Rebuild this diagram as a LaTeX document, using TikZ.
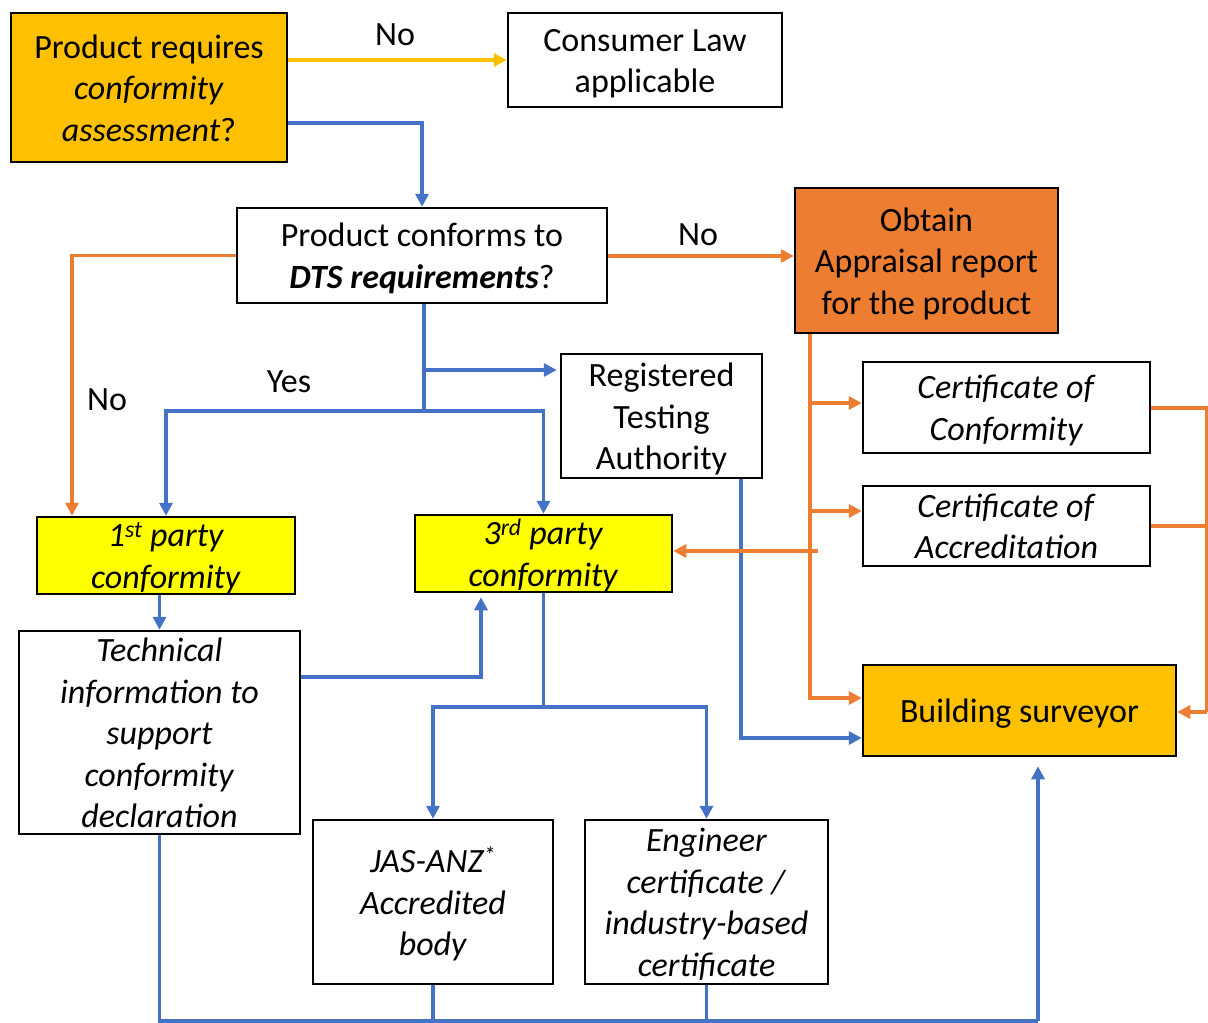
\documentclass[tikz,border=0pt]{standalone}
\usepackage{fontspec}
\setmainfont{Carlito}
\usetikzlibrary{arrows.meta,calc}
\definecolor{cblue}{HTML}{4472C4}
\definecolor{corange}{HTML}{ED7D31}
\definecolor{cgold}{HTML}{FFC000}
\definecolor{cyel}{HTML}{FFFF00}
% #1 = number of lines minus one, #2 = lines
\newcommand\bxt[2]{\raisebox{\dimexpr 20.75pt*#1 - 12pt\relax}[0pt][0pt]{\begin{tabular}[t]{@{}c@{}}#2\end{tabular}}}
\begin{document}
\begin{tikzpicture}[x=1pt,y=-1pt,
  box/.style={draw, line width=2.5pt, inner sep=0pt, font=\fontsize{34}{41.5}\selectfont},
  lbl/.style={inner sep=0pt, font=\fontsize{34}{41.5}\selectfont},
  con/.style={line width=3.5pt},
  arr/.style={con, -{Triangle[length=13pt,width=13pt]}},
  bl/.style={color=cblue},
  orr/.style={color=corange},
  gd/.style={color=cgold}]
\useasboundingbox (0,0) rectangle (1208,1023);
\fill[white] (0,0) rectangle (1208,1023);

% nodes
\node[box, fill=cgold, minimum width=276pt, minimum height=149pt] (q1) at (149,87.5)
  {\bxt{2}{Product requires\\ \textit{conformity}\\ \textit{assessment}?}};
\node[box, minimum width=274pt, minimum height=94pt] (cl) at (645,60)
  {\bxt{1}{Consumer Law\\ applicable}};
\node[box, minimum width=370pt, minimum height=95pt] (q2) at (422,255.5)
  {\bxt{1}{Product conforms to\\ \textbf{\textit{DTS requirements}}?}};
\node[box, fill=corange, minimum width=263pt, minimum height=145pt] (ob) at (926.5,260.5)
  {\bxt{2}{Obtain\\ Appraisal report\\ for the product}};
\node[box, minimum width=201pt, minimum height=124pt] (rta) at (661.5,416)
  {\bxt{2}{Registered\\ Testing\\ Authority}};
\node[box, fill=cyel, minimum width=258pt, minimum height=77pt] (p1) at (166,555.5)
  {\bxt{1}{\textit{1\textsuperscript{st} party}\\ \textit{conformity}}};
\node[box, fill=cyel, minimum width=257pt, minimum height=77pt] (p3) at (543.5,553.5)
  {\bxt{1}{\textit{3\textsuperscript{rd} party}\\ \textit{conformity}}};
\node[box, minimum width=281pt, minimum height=203pt] (ti) at (159.5,732.5)
  {\bxt{4}{\textit{Technical}\\ \textit{information to}\\ \textit{support}\\ \textit{conformity}\\ \textit{declaration}}};
\node[box, minimum width=240pt, minimum height=164pt] (jas) at (433,902)
  {\bxt{2}{\textit{JAS-ANZ\textsuperscript{*}}\\ \textit{Accredited}\\ \textit{body}}};
\node[box, minimum width=243pt, minimum height=164pt] (eng) at (706.5,902)
  {\bxt{3}{\textit{Engineer}\\ \textit{certificate /}\\ \textit{industry-based}\\ \textit{certificate}}};
\node[box, minimum width=287pt, minimum height=91pt] (coc) at (1006.5,407.5)
  {\bxt{1}{\textit{Certificate of}\\ \textit{Conformity}}};
\node[box, minimum width=287pt, minimum height=80pt] (coa) at (1006.5,526)
  {\bxt{1}{\textit{Certificate of}\\ \textit{Accreditation}}};
\node[box, fill=cgold, minimum width=313pt, minimum height=91pt] (bs) at (1019.5,710.5)
  {\bxt{0}{Building surveyor}};

% labels
\node[lbl] (lno1) at (395,35) {No};
\node[lbl] (lno2) at (698,235) {No};
\node[lbl] (lno3) at (107,400) {No};
\node[lbl] (lyes) at (289,382) {Yes};

% junction coordinates
\coordinate (j1) at (424,411);
\coordinate (j2) at (543.5,707);
\coordinate (j3) at (1038,1021);
\coordinate (oj) at (810,698);
\coordinate (rj) at (1207,712);

% connectors
\draw[arr, gd] (q1.east |- cl.west) -- (cl.west);
\draw[arr, bl] (q1.east |- 0,123) -| (q2.north);
\draw[arr, orr] (q2.east |- 0,256) -- (ob.west |- 0,256);
\draw[arr, orr] (q2.west) -| (p1.north -| 72,0);
\draw[con, bl] (q2.south -| j1) -- (j1);
\draw[arr, bl] (j1) -| (p1.north);
\draw[arr, bl] (j1) -| (p3.north);
\draw[arr, bl] (424,370) -- ([xshift=-3pt]rta.west |- 0,370);
\draw[arr, bl] (ti.north |- p1.south) -- (ti.north);
\draw[arr, bl] (ti.east |- 0,677) -| ([yshift=-4pt]p3.south -| 481,0);
\draw[con, bl] (p3.south) -- (j2);
\draw[arr, bl] (j2) -| (jas.north);
\draw[arr, bl] (j2) -| (eng.north);
\draw[con, bl] (ti.south) |- (j3);
\draw[arr, bl] (j3) -- ([yshift=-9pt]bs.south -| j3);
\draw[con, bl] (jas.south) -- (jas.south |- j3);
\draw[con, bl] (eng.south) -- (eng.south |- j3);
\draw[arr, bl] (rta.south -| 741,0) |- (bs.west |- 0,738);
\draw[arr, orr] (ob.south -| oj) |- (bs.west |- oj);
\draw[arr, orr] (810,403) -- (coc.west |- 0,403);
\draw[arr, orr] (810,511) -- (coa.west |- 0,511);
\draw[arr, orr] (818,551) -- (p3.east |- 0,551);
\draw[con, orr] (coc.east |- 0,408) -- (1207,408) -- (rj);
\draw[con, orr] (coa.east |- 0,526) -- (1207,526);
\draw[arr, orr] (rj) -- (bs.east |- rj);
\end{tikzpicture}
\end{document}
